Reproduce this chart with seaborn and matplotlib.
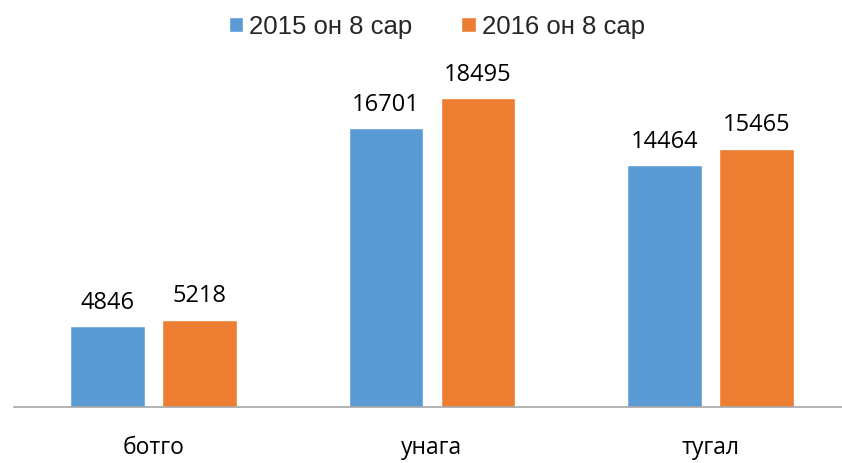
import pandas as pd
import seaborn as sns
import matplotlib.pyplot as plt

# Chart data
categories = ["ботго", "унага", "тугал"]
series_names = ["2015 он 8 сар", "2016 он 8 сар"]
values_2015 = [4846, 16701, 14464]
values_2016 = [5218, 18495, 15465]
colors = ["#5B9BD5", "#ED7D31"]

df = pd.DataFrame({
    "category": categories * 2,
    "series": [series_names[0]] * 3 + [series_names[1]] * 3,
    "value": values_2015 + values_2016,
})

sns.set_style("white")

fig = plt.figure(figsize=(8.42, 4.64), dpi=100)
ax = fig.add_axes([14 / 842, 56 / 464, 836 / 842, 334 / 464])

sns.barplot(data=df, x="category", y="value", hue="series", palette=colors,
            width=0.66, gap=0.19, ax=ax, saturation=1)

ax.set_ylim(0, 20000)
ax.set_xlim(-0.5, 2.5)
ax.set_xlabel("")
ax.set_ylabel("")
ax.set_yticks([])
ax.tick_params(axis="x", length=0, pad=20)
for lbl in ax.get_xticklabels():
    lbl.set_fontfamily("Open Sans")
    lbl.set_fontsize(16.5)
    lbl.set_color("#000000")

for side in ["top", "right", "left"]:
    ax.spines[side].set_visible(False)
ax.spines["bottom"].set_color("#A6A6A6")
ax.spines["bottom"].set_linewidth(1.2)

for cont in ax.containers:
    ax.bar_label(cont, padding=9, fontsize=17, family="Open Sans", color="#000000")

handles, labels = ax.get_legend_handles_labels()
ax.legend(handles, labels, loc="upper center", bbox_to_anchor=(423 / 836, 1 + 74 / 334),
          bbox_transform=ax.transAxes, ncol=2, frameon=False,
          prop={"family": "Liberation Sans", "size": 18.5},
          handlelength=0.55, handleheight=0.55, handletextpad=0.25, columnspacing=1.9,
          borderaxespad=0.2)

plt.savefig("out.png", dpi=100)
